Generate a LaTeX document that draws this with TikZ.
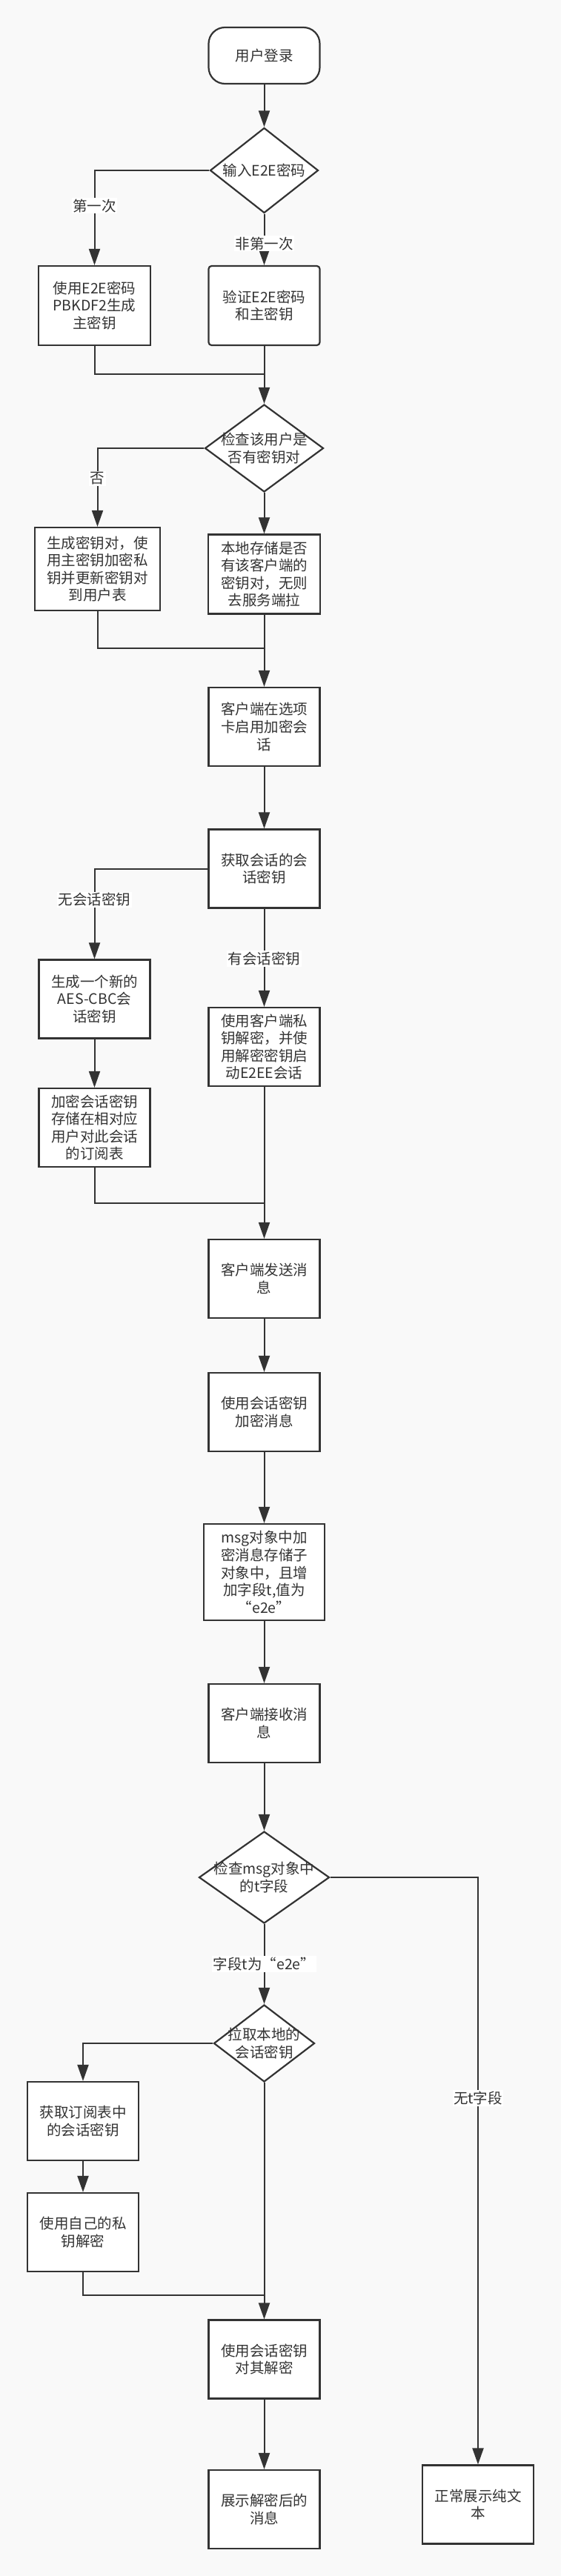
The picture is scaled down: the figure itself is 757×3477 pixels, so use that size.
\documentclass[tikz,border=0pt]{standalone}
\usepackage{fontspec}
\setmainfont{Noto Sans CJK SC}
\usetikzlibrary{arrows.meta,shapes.geometric}
\definecolor{bgc}{HTML}{F9F9F9}
\definecolor{ink}{HTML}{333333}
\begin{document}
\begin{tikzpicture}[x=1pt,y=-1pt,
  font=\fontsize{19.5}{23.6}\selectfont,
  box/.style={draw=ink,line width=2.2pt,fill=white,text=ink,align=center,inner sep=0pt,minimum width=150pt,minimum height=106pt},
  dia/.style={shape=diamond,draw=ink,line width=2.2pt,fill=white,inner sep=0pt},
  txt/.style={text=ink,align=center,inner sep=0pt},
  lbl/.style={fill=white,text=ink,inner sep=1.5pt},
  conn/.style={draw=ink,line width=2pt},
  arr/.style={conn,-{Triangle[length=22pt,width=15pt]}}
]
\fill[bgc] (0,0) rectangle (757,3477);
\useasboundingbox (0,0) rectangle (757,3477);

% nodes
\node[box,rounded corners=22pt,minimum height=76pt] (start) at (356.5,75) {用户登录};
\node[dia,minimum width=146pt,minimum height=115pt] (d1) at (356.5,230) {};
\node[txt] (d1t) at (d1) {输入E2E密码};
\node[box,minimum width=151pt,minimum height=107pt] (bL1) at (127.5,412.5) {使用E2E密码\\PBKDF2生成\\主密钥};
\node[box,rounded corners=4pt,minimum height=107pt] (bR1) at (356.5,412.5) {验证E2E密码\\和主密钥};
\coordinate (m1) at (356.5,505);
\node[dia,minimum width=160pt,minimum height=118pt] (d2) at (356.5,605) {};
\node[txt] (d2t) at (d2) {检查该用户是\\否有密钥对};
\node[box,minimum width=169pt,minimum height=112pt] (bL2) at (131.5,768) {生成密钥对，使\\用主密钥加密私\\钥并更新密钥对\\到用户表};
\node[box,minimum width=151pt,minimum height=107pt] (bR2) at (356.5,775) {本地存储是否\\有该客户端的\\密钥对，无则\\去服务端拉};
\coordinate (m2) at (356.5,875);
\node[box] (b3) at (356.5,981) {客户端在选项\\卡启用加密会\\话};
\node[box] (b4) at (356.5,1172.5) {获取会话的会\\话密钥};
\node[box] (bL4a) at (127.5,1348.5) {生成一个新的\\AES-CBC会\\话密钥};
\node[box] (bL4b) at (127.5,1522) {加密会话密钥\\存储在相对应\\用户对此会话\\的订阅表};
\node[box] (bR4) at (356.5,1413) {使用客户端私\\钥解密，并使\\用解密密钥启\\动E2EE会话};
\coordinate (m3) at (356.5,1624);
\node[box] (b5) at (356.5,1726) {客户端发送消\\息};
\node[box] (b6) at (356.5,1906) {使用会话密钥\\加密消息};
\node[box,minimum width=163pt,minimum height=130pt] (b7) at (356.5,2122) {msg对象中加\\密消息存储子\\对象中，且增\\加字段t,值为\\“e2e”};
\node[box] (b8) at (356.5,2326) {客户端接收消\\息};
\node[dia,minimum width=176pt,minimum height=124pt] (d3) at (356.5,2534) {};
\node[txt] (d3t) at (d3) {检查msg对象中\\的t字段};
\node[dia,minimum width=136pt,minimum height=104pt] (d4) at (356.5,2758) {};
\node[txt] (d4t) at (d4) {拉取本地的\\会话密钥};
\node[box] (bL9a) at (112,2863) {获取订阅表中\\的会话密钥};
\node[box] (bL9b) at (112,3013) {使用自己的私\\钥解密};
\coordinate (m4) at (356.5,3098);
\node[box] (b10) at (356.5,3184.5) {使用会话密钥\\对其解密};
\node[box] (b11) at (356.5,3387) {展示解密后的\\消息};
\node[box] (b12) at (645,3380.5) {正常展示纯文\\本};

% connectors
\draw[arr] (start) -- (d1);
\draw[arr] (d1.west) -| node[lbl,pos=0.686] {第一次} (bL1.north);
\draw[arr] (d1.south) -- node[lbl,pos=0.58] {非第一次} (bR1.north);
\draw[conn] (bL1.south) |- (m1);
\draw[arr] (bR1.south) -- (d2.north);
\draw[arr] (d2.west) -| node[lbl,pos=0.692] {否} (bL2.north);
\draw[arr] (d2.south) -- (bR2.north);
\draw[conn] (bL2.south) |- (m2);
\draw[arr] (bR2.south) -- (b3.north);
\draw[arr] (b3) -- (b4);
\draw[arr] (b4.west) -| node[lbl,pos=0.672] {无会话密钥} (bL4a.north);
\draw[arr] (b4.south) -- node[lbl,pos=0.51] {有会话密钥} (bR4.north);
\draw[arr] (bL4a) -- (bL4b);
\draw[conn] (bL4b.south) |- (m3);
\draw[arr] (bR4.south) -- (b5.north);
\draw[arr] (b5) -- (b6);
\draw[arr] (b6) -- (b7);
\draw[arr] (b7) -- (b8);
\draw[arr] (b8) -- (d3);
\draw[arr] (d3.east) -| node[lbl,pos=0.688] {无t字段} (b12.north);
\draw[arr] (d3.south) -- node[lbl,pos=0.5] {字段t为“e2e”} (d4.north);
\draw[arr] (d4.west) -| (bL9a.north);
\draw[arr] (bL9a) -- (bL9b);
\draw[conn] (bL9b.south) |- (m4);
\draw[arr] (d4.south) -- (b10.north);
\draw[arr] (b10) -- (b11);
\end{tikzpicture}
\end{document}
